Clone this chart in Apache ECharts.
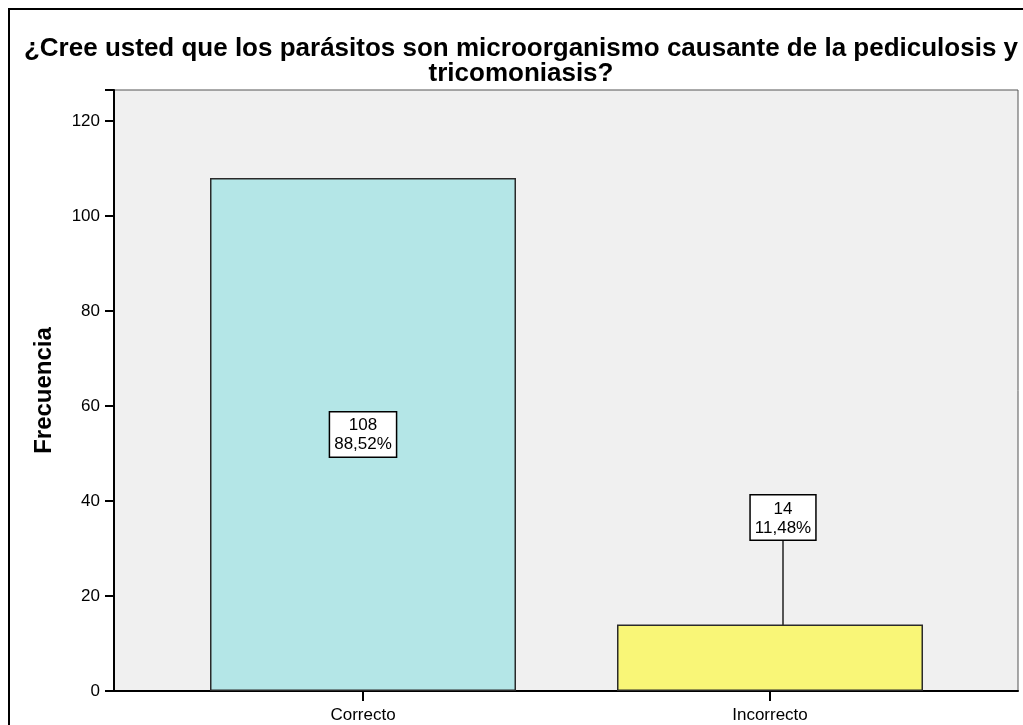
<!DOCTYPE html>
<html>
<head>
<meta charset="utf-8">
<title>Frecuencia</title>
<script src="https://cdn.jsdelivr.net/npm/echarts@6/dist/echarts.min.js"></script>
<style>
  html, body { margin: 0; padding: 0; background: #fff; }
  #chart { width: 1023px; height: 725px; }
</style>
</head>
<body>
<div id="chart"></div>
<script>
// datos
const categories = ["Correcto", "Incorrecto"];
const counts = [108, 14];
const percents = ["88,52%", "11,48%"];
const barColors = ["#b4e6e7", "#f9f677"];
const yTicks = [0, 20, 40, 60, 80, 100, 120];

const FONT = "'Liberation Sans', Arial, sans-serif";
const Y_MAX = 126.5;

(function () {
  const chart = echarts.init(document.getElementById("chart"));

  const option = {
    animation: false,
    backgroundColor: "#fff",
    textStyle: { fontFamily: FONT },
    graphic: [
      {
        // marco exterior (solo se ven arriba e izquierda)
        type: "rect",
        shape: { x: 9, y: 9, width: 1100, height: 800 },
        style: { fill: null, stroke: "#000", lineWidth: 2 },
        silent: true,
      },
    ],
    title: {
      text: "¿Cree usted que los parásitos son microorganismo causante de la pediculosis y\ntricomoniasis?",
      left: 516,
      top: 31,
      textAlign: "center",
      textStyle: {
        fontFamily: FONT,
        fontSize: 26,
        fontWeight: "bold",
        color: "#000",
        lineHeight: 25,
      },
    },
    grid: [
      // fondo + eje y
      { left: 114, top: 90, right: 5, bottom: 34, show: true, backgroundColor: "#f0f0f0", borderColor: "#555", borderWidth: 1 },
      // barras
      { left: 159.5, top: 90, right: 49.5, bottom: 34 },
    ],
    xAxis: [
      {
        gridIndex: 0,
        type: "value",
        min: 0,
        max: 1,
        axisLine: { show: true, lineStyle: { color: "#000", width: 2 } },
        axisTick: { show: false },
        axisLabel: { show: false },
        splitLine: { show: false },
      },
      {
        gridIndex: 1,
        type: "category",
        data: categories,
        axisLine: { show: false },
        axisTick: { show: true, alignWithLabel: true, length: 10, lineStyle: { color: "#000", width: 2 } },
        axisLabel: { color: "#000", fontSize: 17, fontFamily: FONT, margin: 16 },
      },
    ],
    yAxis: [
      {
        gridIndex: 0,
        type: "value",
        min: 0,
        max: Y_MAX,
        interval: 20,
        name: "Frecuencia",
        nameLocation: "middle",
        nameGap: 58,
        nameTextStyle: { fontSize: 24, fontWeight: "bold", color: "#000", fontFamily: FONT },
        axisLine: { show: true, lineStyle: { color: "#000", width: 2 } },
        axisTick: { show: true, length: 9, lineStyle: { color: "#000", width: 2 } },
        axisLabel: {
          color: "#000",
          fontSize: 17,
          fontFamily: FONT,
          margin: 14,
          formatter: (v) => (yTicks.indexOf(v) >= 0 ? String(v) : ""),
        },
        splitLine: { show: false },
      },
      {
        gridIndex: 1,
        type: "value",
        min: 0,
        max: Y_MAX,
        show: false,
      },
    ],
    series: [
      {
        type: "bar",
        xAxisIndex: 1,
        yAxisIndex: 1,
        barWidth: 306,
        data: counts.map((v, i) => ({
          value: v,
          itemStyle: { color: barColors[i], borderColor: "#2a2a2a", borderWidth: 1.5 },
          label: { position: i === 0 ? "inside" : "top", distance: 5 },
        })),
        label: {
          show: true,
          formatter: (p) => `${counts[p.dataIndex]}\n${percents[p.dataIndex]}`,
          color: "#000",
          fontSize: 17,
          fontFamily: FONT,
          lineHeight: 19,
          align: "center",
          backgroundColor: "#fff",
          borderColor: "#000",
          borderWidth: 1.5,
          padding: [4, 4, 2, 4],
        },
        labelLine: { show: true, lineStyle: { color: "#222", width: 1.5 } },
        labelLayout: function (p) {
          if (p.dataIndex === 1) return { dx: 13, dy: -80 };
          return {};
        },
      },
    ],
  };

  chart.setOption(option);
  window.addEventListener("resize", () => chart.resize());
})();
</script>
</body>
</html>
